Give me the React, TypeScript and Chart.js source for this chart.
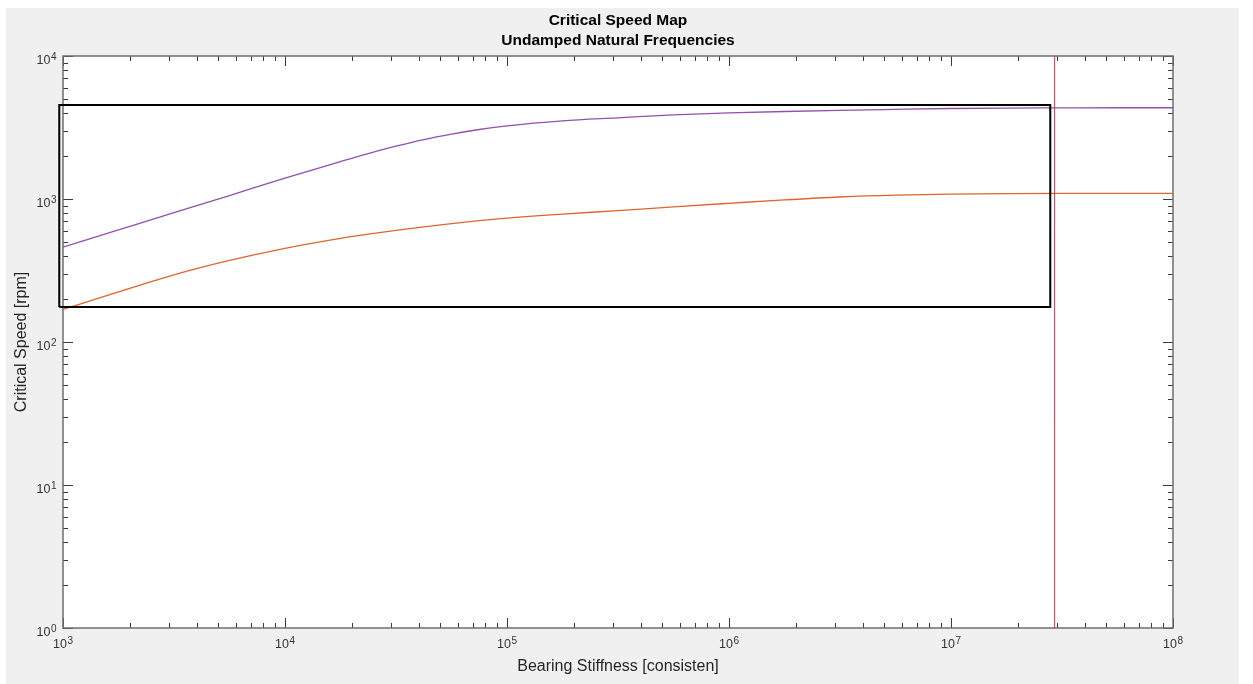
import React, { useEffect, useRef } from 'react';
import { Chart, registerables } from 'chart.js';

Chart.register(...registerables);

// ---- data ----
const stiffness = [
  1000, 1778, 3162, 5623, 10000, 17783, 23714, 31623, 42170, 56234, 74989,
  100000, 177828, 316228, 562341, 1000000, 1778279, 3162278, 5623413,
  10000000, 17782794, 31622777, 56234133, 100000000,
];
const mode2Speed = [
  461, 608, 802, 1057, 1400, 1828, 2080, 2344, 2606, 2844, 3062, 3251, 3524,
  3698, 3873, 3999, 4093, 4169, 4236, 4295, 4325, 4335, 4345, 4345,
];
const mode1Speed = [
  169, 224, 295, 372, 452, 531, 568, 603, 638, 673, 705, 735, 785, 828, 881,
  933, 986, 1033, 1064, 1081, 1091, 1096, 1096, 1096,
];
const operatingStiffness = 2.93e7;
const boxStiffness = [962, 2.8e7];
const boxSpeed = [176, 4543];
const xDecades = [1e3, 1e4, 1e5, 1e6, 1e7, 1e8];
const yDecades = [1, 10, 100, 1000, 10000];
const titleLines = ['Critical Speed Map', 'Undamped Natural Frequencies'];
const xLabel = 'Bearing Stiffness [consisten]';
const yLabel = 'Critical Speed [rpm]';

const FONT = "'Liberation Sans', Arial, Helvetica, sans-serif";
const TICK_COLOR = '#333333';

const drawPow = (
  ctx: CanvasRenderingContext2D,
  v: number,
  x: number,
  baseline: number,
  align: 'center' | 'right'
) => {
  const e = String(Math.round(Math.log10(v)));
  ctx.font = `12.5px ${FONT}`;
  const wb = ctx.measureText('10').width;
  ctx.font = `10px ${FONT}`;
  const we = ctx.measureText(e).width;
  const total = wb + we + 0.5;
  const start = align === 'center' ? x - total / 2 : x - total;
  ctx.textAlign = 'left';
  ctx.textBaseline = 'alphabetic';
  ctx.font = `12.5px ${FONT}`;
  ctx.fillText('10', start, baseline);
  ctx.font = `10px ${FONT}`;
  ctx.fillText(e, start + wb + 0.5, baseline - 4.5);
};

const framePlugin = {
  id: 'matlabFrame',
  beforeDraw(chart: any) {
    const { ctx, chartArea: a, width, height } = chart;
    ctx.save();
    ctx.fillStyle = '#ffffff';
    ctx.fillRect(0, 0, width, height);
    ctx.fillStyle = '#f0f0f0';
    ctx.fillRect(6, 8, 1233, height - 8);
    ctx.fillStyle = '#ffffff';
    ctx.fillRect(a.left, a.top, a.right - a.left, a.bottom - a.top);
    ctx.restore();
  },
  beforeDatasetsDraw(chart: any) {
    const { ctx, chartArea: a } = chart;
    const xs = chart.scales.x;
    const ys = chart.scales.y;
    const major = 10;
    const minor = 5;
    ctx.save();
    ctx.strokeStyle = '#3a3a3a';
    ctx.lineWidth = 1;
    ctx.beginPath();
    for (let i = 0; i < xDecades.length; i++) {
      const d = xDecades[i];
      for (let m = 1; m <= 9; m++) {
        const v = m * d;
        if (v > xs.max * 1.0001) break;
        const px = Math.round(xs.getPixelForValue(v)) + 0.5;
        const L = m === 1 ? major : minor;
        ctx.moveTo(px, a.bottom);
        ctx.lineTo(px, a.bottom - L);
        ctx.moveTo(px, a.top);
        ctx.lineTo(px, a.top + L);
      }
    }
    for (let i = 0; i < yDecades.length; i++) {
      const d = yDecades[i];
      for (let m = 1; m <= 9; m++) {
        const v = m * d;
        if (v > ys.max * 1.0001) break;
        const py = Math.round(ys.getPixelForValue(v)) + 0.5;
        const L = m === 1 ? major : minor;
        ctx.moveTo(a.left, py);
        ctx.lineTo(a.left + L, py);
        ctx.moveTo(a.right, py);
        ctx.lineTo(a.right - L, py);
      }
    }
    ctx.stroke();
    ctx.strokeStyle = '#6e6e6e';
    ctx.lineWidth = 1.5;
    ctx.strokeRect(a.left, a.top, a.right - a.left, a.bottom - a.top);
    ctx.restore();
  },
  afterDraw(chart: any) {
    const { ctx, chartArea: a } = chart;
    const xs = chart.scales.x;
    const ys = chart.scales.y;
    ctx.save();
    // tick labels (10 with raised exponent), positioned by the library's scales
    ctx.fillStyle = TICK_COLOR;
    xs.ticks.forEach((t: any) => {
      drawPow(ctx, t.value, xs.getPixelForValue(t.value), a.bottom + 20, 'center');
    });
    ys.ticks.forEach((t: any) => {
      drawPow(ctx, t.value, a.left - 6.5, ys.getPixelForValue(t.value) + 8, 'right');
    });
    // title
    ctx.fillStyle = '#000000';
    ctx.font = `bold 15.5px ${FONT}`;
    ctx.textAlign = 'center';
    ctx.textBaseline = 'middle';
    const cx = (a.left + a.right) / 2;
    ctx.fillText(titleLines[0], cx, 21);
    ctx.fillText(titleLines[1], cx, 41);
    ctx.restore();
  },
};

export default function App() {
  const ref = useRef<HTMLCanvasElement>(null);
  useEffect(() => {
    document.body.style.margin = '0';
    const canvas = ref.current;
    if (!canvas) return;
    const boxPts = [
      { x: boxStiffness[0], y: boxSpeed[0] },
      { x: boxStiffness[0], y: boxSpeed[1] },
      { x: boxStiffness[1], y: boxSpeed[1] },
      { x: boxStiffness[1], y: boxSpeed[0] },
      { x: boxStiffness[0], y: boxSpeed[0] },
    ];
    const chart = new Chart(canvas, {
      type: 'scatter',
      data: {
        datasets: [
          {
            label: 'Operating stiffness',
            data: [
              { x: operatingStiffness, y: yDecades[0] },
              { x: operatingStiffness, y: yDecades[yDecades.length - 1] },
            ],
            borderColor: '#c9334a',
            borderWidth: 1,
            showLine: true,
            pointRadius: 0,
            order: 0,
          } as any,
          {
            label: 'Region',
            data: boxPts,
            borderColor: '#000000',
            borderWidth: 2,
            borderJoinStyle: 'miter',
            showLine: true,
            pointRadius: 0,
            clip: false,
            order: 1,
          } as any,
          {
            label: 'Mode 2',
            data: stiffness.map((x, i) => ({ x, y: mode2Speed[i] })),
            borderColor: '#9150ac',
            borderWidth: 1.3,
            showLine: true,
            pointRadius: 0,
            cubicInterpolationMode: 'monotone',
            order: 2,
          } as any,
          {
            label: 'Mode 1',
            data: stiffness.map((x, i) => ({ x, y: mode1Speed[i] })),
            borderColor: '#e0642e',
            borderWidth: 1.3,
            showLine: true,
            pointRadius: 0,
            cubicInterpolationMode: 'monotone',
            order: 3,
          } as any,
        ],
      },
      options: {
        animation: false,
        responsive: false,
        devicePixelRatio: 1,
        events: [],
        layout: { padding: { top: 56, right: 80, left: 0, bottom: 0 } },
        plugins: {
          legend: { display: false },
          tooltip: { enabled: false },
          title: { display: false },
        },
        scales: {
          x: {
            type: 'logarithmic',
            min: 1e3,
            max: 1e8,
            afterBuildTicks: (s: any) => {
              s.ticks = xDecades.map((v) => ({ value: v }));
            },
            afterFit: (s: any) => {
              s.height = 56;
            },
            grid: { display: false, drawTicks: false },
            border: { display: false },
            ticks: { display: false, autoSkip: false },
            title: {
              display: true,
              text: xLabel,
              color: '#262626',
              font: { family: FONT, size: 16 },
              padding: { top: 0, bottom: 8 },
            },
          },
          y: {
            type: 'logarithmic',
            min: 1,
            max: 1e4,
            afterBuildTicks: (s: any) => {
              s.ticks = yDecades.map((v) => ({ value: v }));
            },
            afterFit: (s: any) => {
              s.width = 63;
            },
            grid: { display: false, drawTicks: false },
            border: { display: false },
            ticks: { display: false, autoSkip: false },
            title: {
              display: true,
              text: yLabel,
              color: '#262626',
              font: { family: FONT, size: 16 },
              padding: { top: 12, bottom: 0 },
            },
          },
        },
      } as any,
      plugins: [framePlugin],
    });
    return () => chart.destroy();
  }, []);
  return (
    <div style={{ width: 1253, height: 684 }}>
      <canvas
        ref={ref}
        width={1253}
        height={684}
        style={{ display: 'block', width: 1253, height: 684 }}
      />
    </div>
  );
}
